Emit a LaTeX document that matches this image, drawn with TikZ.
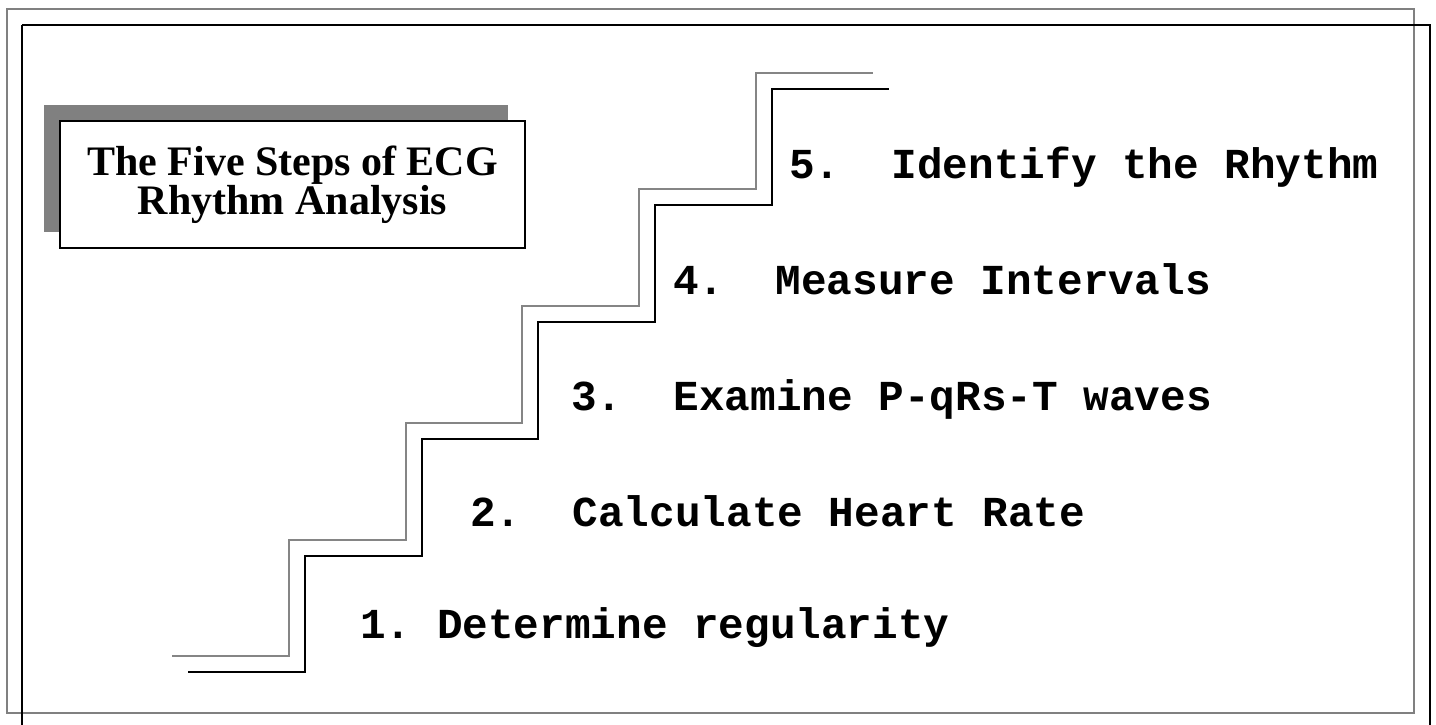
\documentclass[tikz,border=0pt]{standalone}
\usepackage{fontspec}
\setmainfont{Liberation Serif}
\setmonofont{Liberation Mono}
\tikzset{
  steplabel/.style={anchor=base west, inner sep=0pt,
    font=\ttfamily\bfseries\fontsize{42.7}{48}\selectfont},
  stairblack/.style={draw=black, line width=2pt},
  stairgray/.style={draw=black!48, line width=2pt},
  titlebox/.style={draw=black, line width=2pt, fill=white, inner sep=0pt,
    minimum width=465pt, minimum height=127pt, align=center,
    font=\bfseries\fontsize{42}{38.5}\selectfont},
}
\begin{document}
\begin{tikzpicture}[x=1pt, y=-1pt]
  \useasboundingbox (0,0) rectangle (1436,724);
  \clip (0,0) rectangle (1436,724);
  % page frames
  \draw[draw=black!50, line width=2.2pt] (7,9) rectangle (1414,713);
  \draw[draw=black, line width=2.5pt] (22,25) -- (1430,25) -- (1430,740);
  \draw[draw=black, line width=2.5pt] (22,25) -- (22,740);
  % title with drop shadow
  \fill[black!50] (44,105) rectangle (508,232);
  \node[titlebox] (title) at (292.5,184.5) {The Five Steps of ECG\\Rhythm Analysis};
  % staircase: shadow line and main line
  \draw[stairgray] (172,656) -- (289,656) -- (289,540) -- (406,540) -- (406,423)
    -- (522,423) -- (522,306) -- (639,306) -- (639,189) -- (756,189) -- (756,73) -- (873,73);
  \draw[stairblack] (188,672) -- (305,672) -- (305,556) -- (422,556) -- (422,439)
    -- (538,439) -- (538,322) -- (655,322) -- (655,205) -- (772,205) -- (772,89) -- (889,89);
  % the five steps
  \node[steplabel] (s1) at (360,638) {1. Determine regularity};
  \node[steplabel] (s2) at (470,526) {2.~~Calculate Heart Rate};
  \node[steplabel] (s3) at (571,410) {3.~~Examine P-qRs-T waves};
  \node[steplabel] (s4) at (673,294) {4.~~Measure Intervals};
  \node[steplabel] (s5) at (789,178) {5.~~Identify the Rhythm};
\end{tikzpicture}
\end{document}
